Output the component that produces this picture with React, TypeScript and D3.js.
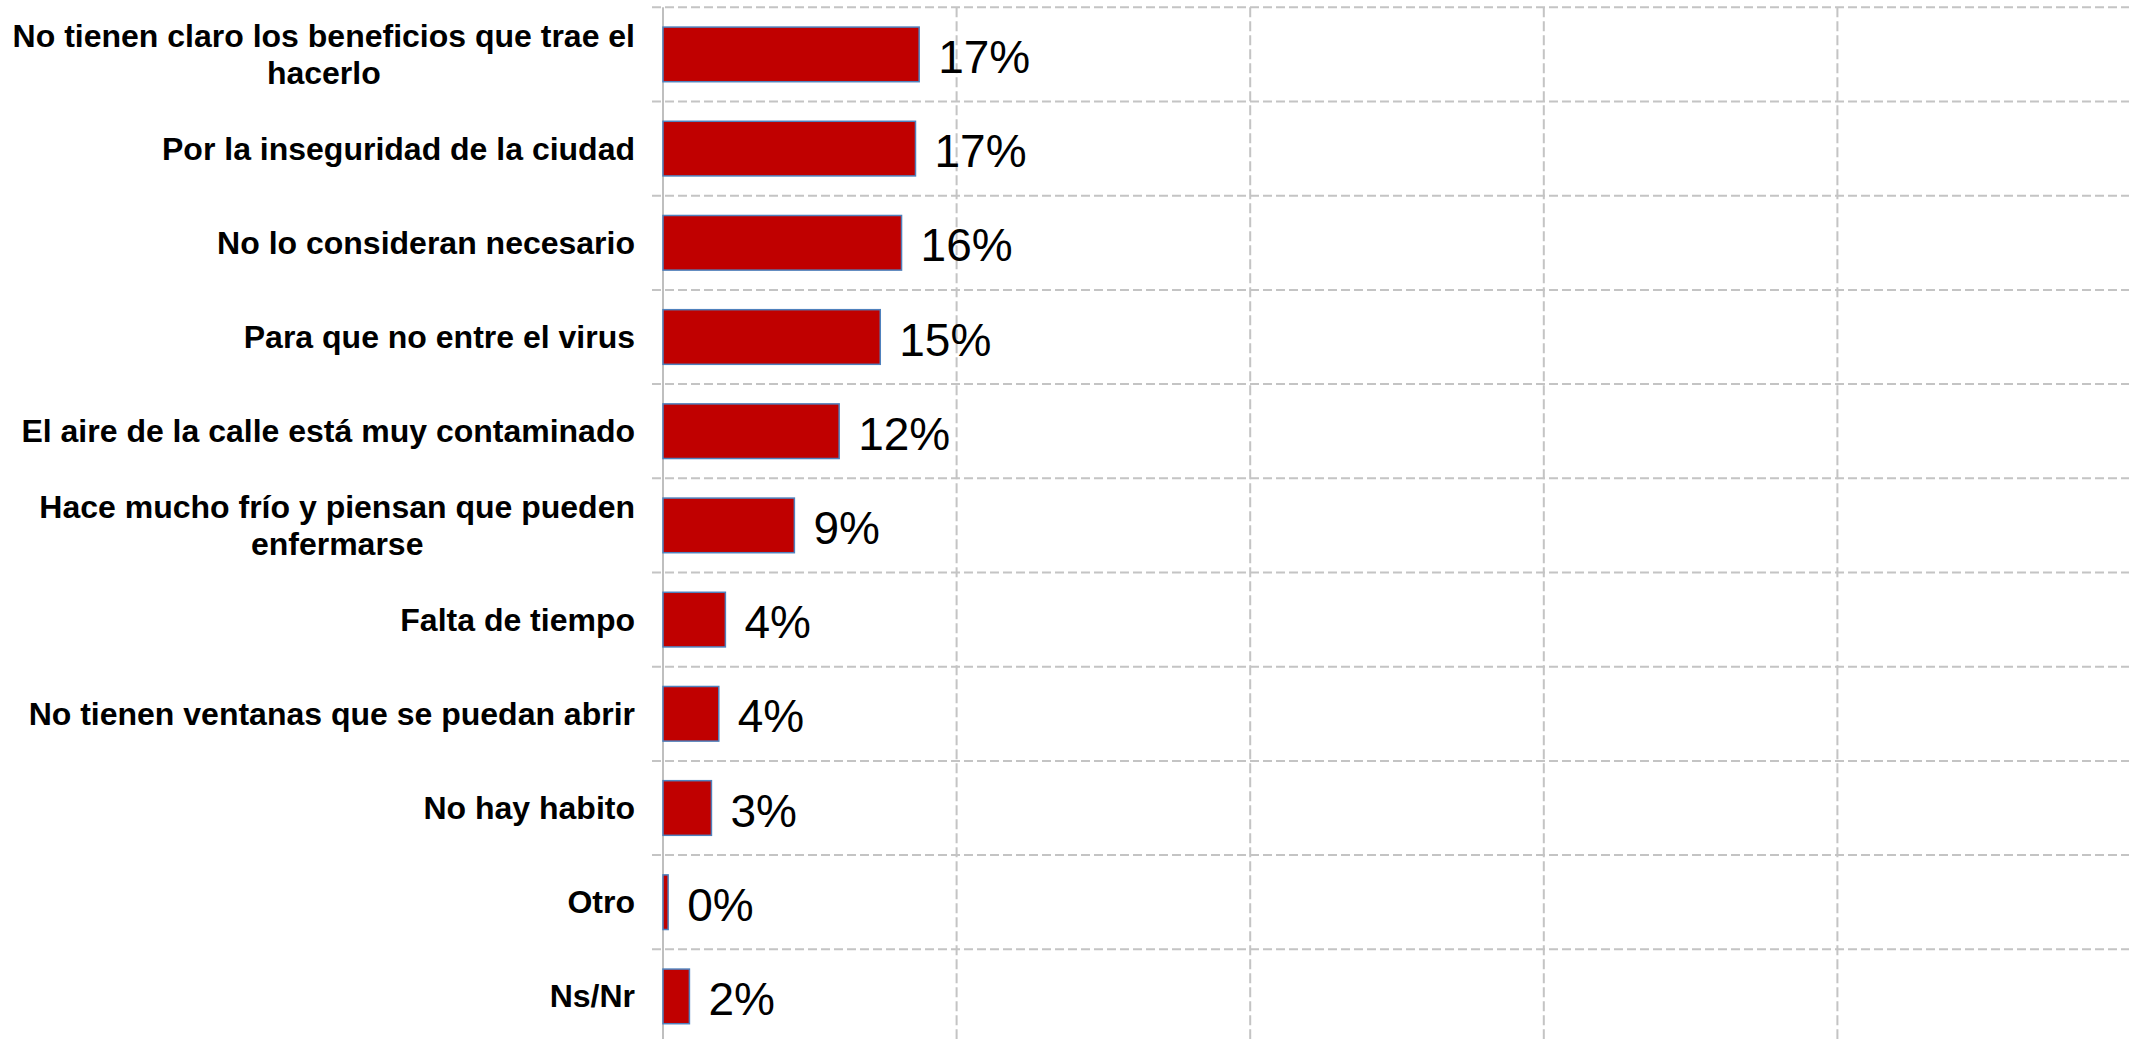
import React, { useEffect, useRef } from "react";
import * as d3 from "d3";

const categories: string[][] = [
  ["No tienen claro los beneficios que trae el", "hacerlo"],
  ["Por la inseguridad de la ciudad"],
  ["No lo consideran necesario"],
  ["Para que no entre el virus"],
  ["El aire de la calle está muy contaminado"],
  ["Hace mucho frío y piensan que pueden", "enfermarse"],
  ["Falta de tiempo"],
  ["No tienen ventanas que se puedan abrir"],
  ["No hay habito"],
  ["Otro"],
  ["Ns/Nr"],
];
const values: number[] = [17.45, 17.2, 16.25, 14.8, 12.0, 8.95, 4.25, 3.8, 3.3, 0.35, 1.8];
const xTicks: number[] = [0, 20, 40, 60, 80, 100];

const W = 2129;
const H = 1039;
const FONT = "'Liberation Sans', Arial, Helvetica, sans-serif";

export default function App() {
  const ref = useRef<SVGSVGElement | null>(null);

  useEffect(() => {
    const svg = d3.select(ref.current);
    svg.selectAll("*").remove();

    const x0 = 663;
    const x1 = 2131;
    const top = 7.3;
    const bottom = top + 94.2 * categories.length;

    const x = d3.scaleLinear().domain([0, 100]).range([x0, x1]);
    const y = d3
      .scaleBand<number>()
      .domain(d3.range(categories.length))
      .range([top, bottom])
      .paddingInner(0.42)
      .paddingOuter(0.21);
    const step = y.step();

    const grid = svg.append("g");
    // vertical grid
    xTicks.slice(1).forEach((t) => {
      grid
        .append("line")
        .attr("x1", x(t))
        .attr("x2", x(t))
        .attr("y1", top)
        .attr("y2", bottom)
        .attr("stroke", "#c4c4c4")
        .attr("stroke-width", 2)
        .attr("stroke-dasharray", "10,4");
    });
    // horizontal grid (category boundaries)
    d3.range(categories.length + 1).forEach((i) => {
      const yy = top + i * step;
      grid
        .append("line")
        .attr("x1", x0 - 11)
        .attr("x2", W)
        .attr("y1", yy)
        .attr("y2", yy)
        .attr("stroke", "#c4c4c4")
        .attr("stroke-width", 2)
        .attr("stroke-dasharray", "9,4");
    });
    // axis line
    grid
      .append("line")
      .attr("x1", x0)
      .attr("x2", x0)
      .attr("y1", top)
      .attr("y2", bottom)
      .attr("stroke", "#bfbfbf")
      .attr("stroke-width", 2);

    // bars
    svg
      .append("g")
      .selectAll("rect")
      .data(values)
      .join("rect")
      .attr("x", x(0))
      .attr("y", (_, i) => y(i)!)
      .attr("width", (d) => x(d) - x(0))
      .attr("height", y.bandwidth())
      .attr("fill", "#c00000")
      .attr("stroke", "#4f81bd")
      .attr("stroke-width", 1.5);

    // value labels
    svg
      .append("g")
      .selectAll("text")
      .data(values)
      .join("text")
      .attr("x", (d) => x(d) + 19)
      .attr("y", (_, i) => y(i)! + y.bandwidth() / 2 + 18.5)
      .attr("font-family", FONT)
      .attr("font-size", 46)
      .attr("fill", "#000")
      .text((d) => `${Math.round(d)}%`);

    // category labels
    const right = 635;
    const fs = 32;
    const lh = 36.7;
    const lg = svg.append("g");
    categories.forEach((lines, i) => {
      const cy = y(i)! + y.bandwidth() / 2;
      const n = lines.length;
      const texts = lines.map((ln, k) =>
        lg
          .append("text")
          .attr("font-family", FONT)
          .attr("font-weight", "bold")
          .attr("font-size", fs)
          .attr("fill", "#000")
          .attr("y", cy + 11 + (k - (n - 1) / 2) * lh)
          .text(ln)
      );
      const widths = texts.map((t) => (t.node() as SVGTextElement).getComputedTextLength());
      const maxW = Math.max(...widths);
      const center = right - maxW / 2;
      texts.forEach((t) => t.attr("x", center).attr("text-anchor", "middle"));
    });
  }, []);

  return (
    <svg
      ref={ref}
      width={W}
      height={H}
      style={{ position: "absolute", left: 0, top: 0, background: "#fff" }}
    />
  );
}
